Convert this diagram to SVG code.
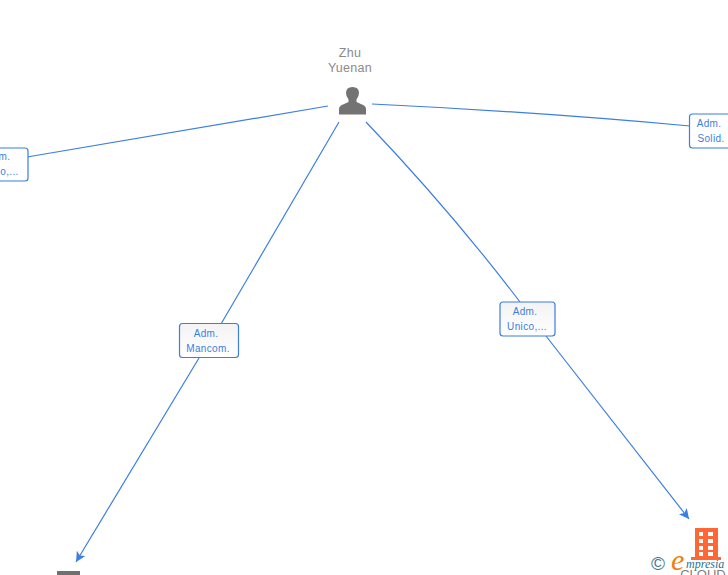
<svg xmlns="http://www.w3.org/2000/svg" width="728" height="575" viewBox="0 0 728 575">
<style>
.c{fill:none;stroke:#3b7fe0;stroke-width:1.2}
.b{fill:#fff;stroke:#3b7fe0;stroke-width:1.2}
.l{font:10px "Liberation Sans",Arial,sans-serif;fill:#3b7fe0;text-anchor:middle;letter-spacing:.35px}
.n{font:12.500px "Liberation Sans",Arial,sans-serif;fill:#8a8a8a;text-anchor:middle;letter-spacing:.3px}
</style>
<defs>
<linearGradient id="g" x1="0" y1="0" x2="0" y2="1"><stop offset="0" stop-color="#f3f3f3"/><stop offset="1" stop-color="#fff"/></linearGradient>
<marker id="a" markerWidth="12" markerHeight="12" refX="10" refY="5" orient="auto" markerUnits="userSpaceOnUse"><path d="M0 0L10 5L0 10L2.500 5Z" fill="#3b7fe0"/></marker>
</defs>
<rect width="728" height="575" fill="#fff"/>
<g id="connectors">
<path class="c" d="M328 106L27 157"/>
<path class="c" d="M372 104Q540 112 690 126"/>
<path class="c" d="M339 122L221 324"/>
<path class="c" d="M199 358L76 562" marker-end="url(#a)"/>
<path class="c" d="M366 122Q450 210 520 302"/>
<path class="c" d="M546 336L689 519" marker-end="url(#a)"/>
</g>
<g id="person">
<text class="n" x="350" y="57">Zhu</text>
<text class="n" x="350" y="72">Yuenan</text>
<path fill="#737373" d="M339 114.500V109Q339 106 343 104.500L348.500 102V99.500Q346 96.500 346 93Q346 87 352.500 87Q359 87 359 93Q359 96.500 356.500 99.500V102L362 104.500Q366 106 366 109V114.500Z"/>
</g>
<g id="edge-left"><rect class="b" x="-20" y="148" width="48" height="33" rx="3"/><text class="l" x="4.500" y="160">m.</text><text class="l" x="9.500" y="175">o,...</text></g>
<g id="edge-right"><rect class="b" x="689.500" y="114" width="50" height="34" rx="3"/><text class="l" x="709" y="127">Adm.</text><text class="l" x="711" y="142">Solid.</text></g>
<g id="edge-mancom"><rect x="179.500" y="323.500" width="59" height="34" rx="3" fill="url(#g)" stroke="#3b7fe0" stroke-width="1.200"/><text class="l" x="206" y="337">Adm.</text><text class="l" x="208" y="352">Mancom.</text></g>
<g id="edge-unico"><rect x="500" y="302" width="55" height="34" rx="3" fill="url(#g)" stroke="#3b7fe0" stroke-width="1.200"/><text class="l" x="525" y="315">Adm.</text><text class="l" x="527" y="330">Unico,...</text></g>
<g id="company-left"><rect x="57" y="571" width="23" height="4" fill="#707070"/></g>
<g id="company-right">
<path fill="#ff6633" fill-rule="evenodd" d="M695 528H718V557H721V560H691V557H695ZM699 532V536H703V532ZM708 532V536H713V532ZM699 539V543H703V539ZM708 539V543H713V539ZM699 546V550H703V546ZM708 546V550H713V546ZM699 552V556H703V552ZM708 552V556H713V552Z"/>
<text x="703" y="579" font-family="'Liberation Sans',Arial,sans-serif" font-size="13" fill="#808080" text-anchor="middle">CLOUD</text>
</g>
<g id="watermark">
<text x="658" y="570" font-family="'Liberation Sans',Arial,sans-serif" font-size="19" fill="#3d7a96" text-anchor="middle">©</text>
<text x="671" y="570" font-family="'Liberation Serif',serif" font-style="italic" font-size="30" fill="#f08010">e</text>
<text x="686" y="568" font-family="'Liberation Serif',serif" font-style="italic" font-size="12" fill="#2f6f8f">mpresia</text>
</g>
</svg>
